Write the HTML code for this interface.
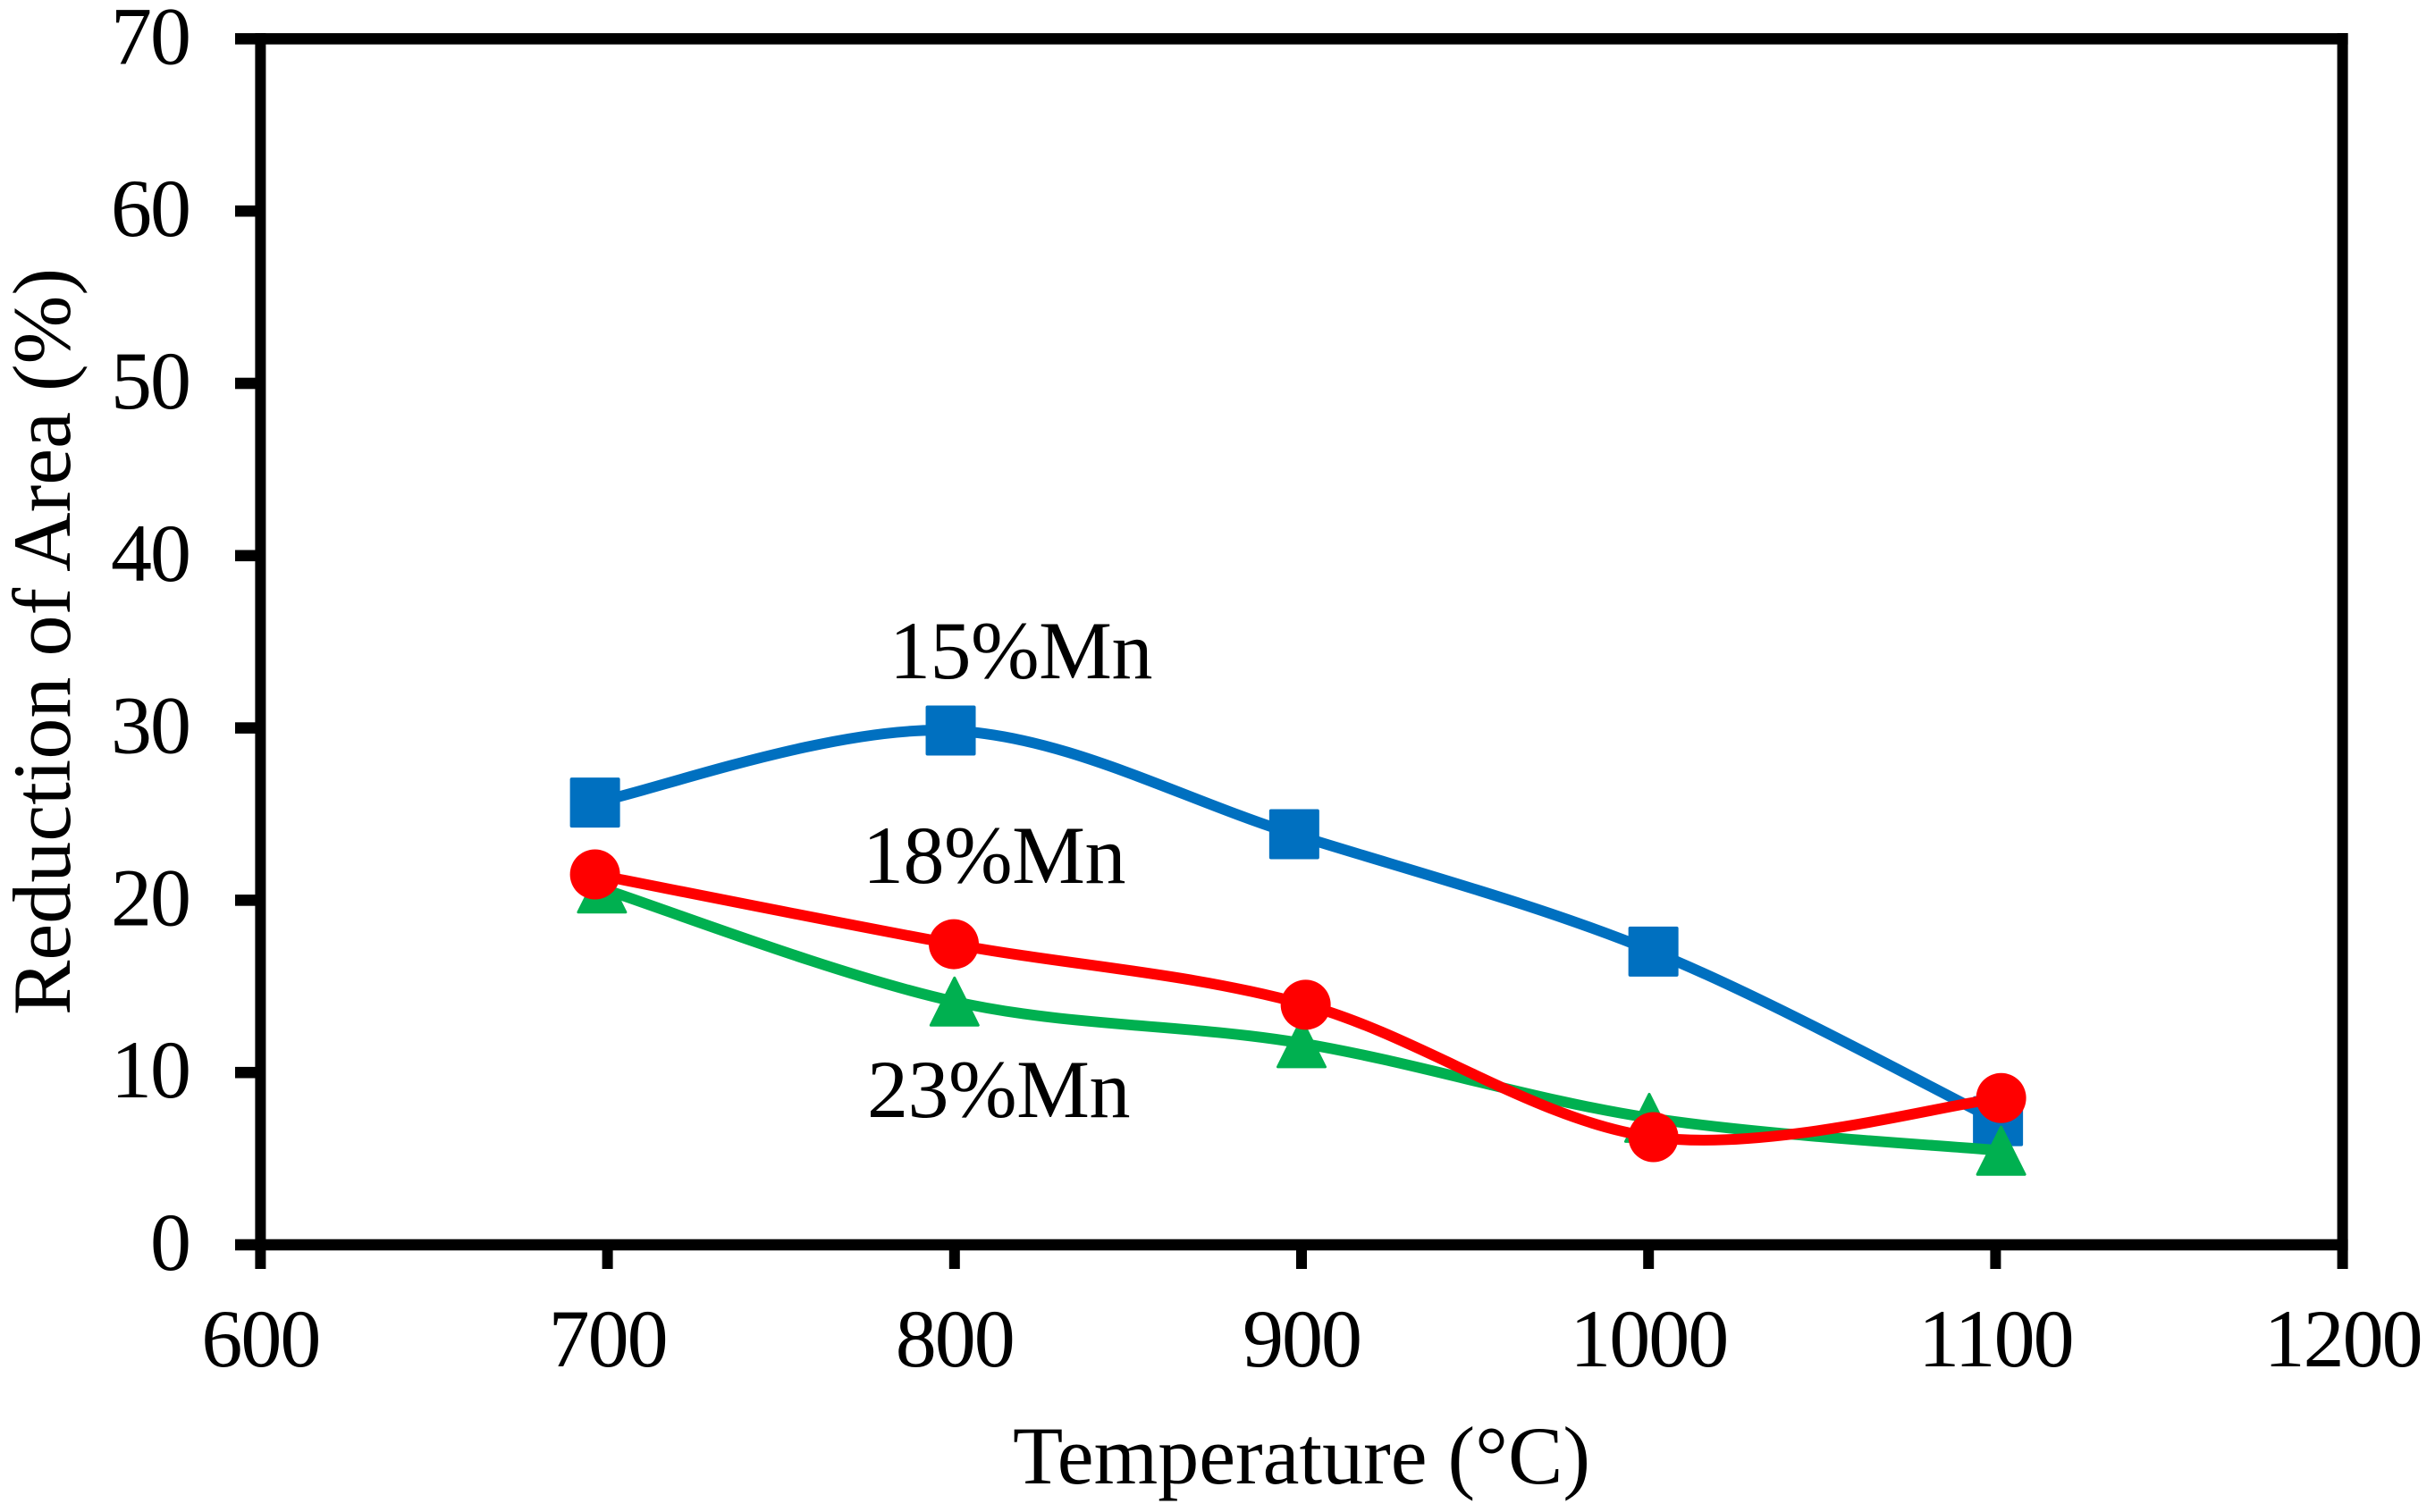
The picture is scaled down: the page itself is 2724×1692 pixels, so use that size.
<!DOCTYPE html>
<html>
<head>
<meta charset="utf-8">
<title>Reduction of Area vs Temperature</title>
<style>
html,body{margin:0;padding:0;background:#fff;}
svg{display:block;}
text{font-family:"Liberation Serif",serif;font-size:92px;fill:#000;}
.tick-label{letter-spacing:-2px;}
.series-label{letter-spacing:-0.5px;}
</style>
</head>
<body>
<svg id="chart" xmlns="http://www.w3.org/2000/svg" width="2724" height="1692" viewBox="0 0 2724 1692">
<rect x="0" y="0" width="2724" height="1692" fill="#ffffff"/>
<g id="axes"></g>
<g id="series"></g>
<g id="labels">
<text x="1456" y="1660" text-anchor="middle">Temperature (°C)</text>
<text text-anchor="middle" transform="translate(78 718) rotate(-90)" textLength="836">Reduction of Area (%)</text>
<text class="series-label" x="1142" y="759" text-anchor="middle">15%Mn</text>
<text class="series-label" x="1112" y="988" text-anchor="middle">18%Mn</text>
<text class="series-label" x="1117" y="1250" text-anchor="middle">23%Mn</text>
</g>
</svg>
<script>
const xTicks = [600, 700, 800, 900, 1000, 1100, 1200];
const yTicks = [0, 10, 20, 30, 40, 50, 60, 70];

const tempMn15 = [696.4, 798.9, 897.9, 1001.4, 1100.7];
const areaMn15 = [25.67, 29.85, 23.83, 17.02, 7.18];

const tempMn23 = [698.4, 800, 900, 1000.2, 1101.6];
const areaMn23 = [20.68, 14.12, 11.7, 7.37, 5.46];

const tempMn18 = [696.4, 799.8, 901.2, 1001.4, 1101.6];
const areaMn18 = [21.5, 17.45, 13.93, 6.25, 8.52];

const SVG_NS = 'http://www.w3.org/2000/svg';
const X_ORIGIN = 291.4, X_SCALE = 3.882, X_MIN = 600;
const Y_ORIGIN = 1393, Y_SCALE = 19.28;
const MARKER = 28;

function xPos(v) { return X_ORIGIN + (v - X_MIN) * X_SCALE; }
function yPos(v) { return Y_ORIGIN - v * Y_SCALE; }

function make(tag, parent, attrs, text) {
  const el = document.createElementNS(SVG_NS, tag);
  for (const k in attrs) el.setAttribute(k, attrs[k]);
  if (text !== undefined) el.textContent = text;
  parent.appendChild(el);
  return el;
}

function smoothPath(xs, ys) {
  const p = xs.map((x, i) => [xPos(x), yPos(ys[i])]);
  let d = 'M' + p[0][0].toFixed(1) + ' ' + p[0][1].toFixed(1);
  for (let i = 0; i < p.length - 1; i++) {
    const a = p[Math.max(i - 1, 0)], b = p[i], c = p[i + 1], e = p[Math.min(i + 2, p.length - 1)];
    const c1x = b[0] + (c[0] - a[0]) / 6, c1y = b[1] + (c[1] - a[1]) / 6;
    const c2x = c[0] - (e[0] - b[0]) / 6, c2y = c[1] - (e[1] - b[1]) / 6;
    d += 'C' + [c1x, c1y, c2x, c2y, c[0], c[1]].map(n => n.toFixed(1)).join(' ');
  }
  return d;
}

const axes = document.getElementById('axes');
const seriesGroup = document.getElementById('series');

function drawAxes() {
  const left = xPos(600), right = xPos(1200), top = yPos(70), bottom = yPos(0);
  const plot = make('rect', axes, { x: left, y: top, width: right - left, height: bottom - top, fill: 'none', stroke: 'none' });
  
  

  yTicks.forEach(function (t) {
    const tick = make('rect', axes, { x: 263, y: yPos(t) - 6.3, width: left - 263, height: 12.6, fill: '#000' });
    
    
    const label = make('text', axes, { class: 'tick-label', x: 212, y: yPos(t) + 28, 'text-anchor': 'end' }, String(t));
    
    
  });

  xTicks.forEach(function (t) {
    const tick = make('rect', axes, { x: xPos(t) - 6, y: bottom, width: 12, height: 1420 - bottom, fill: '#000' });
    
    
    const label = make('text', axes, { class: 'tick-label', x: xPos(t), y: 1529, 'text-anchor': 'middle' }, String(t));
    
    
  });

  const bl = make('rect', axes, { x: left - 6, y: top - 6.3, width: 12, height: bottom - top + 6.3, fill: '#000' });
  
  
  const br = make('rect', axes, { x: right - 6, y: top - 6.3, width: 12, height: bottom - top + 6.3, fill: '#000' });
  
  
  const bt = make('rect', axes, { x: left, y: top - 6.3, width: right - left + 6, height: 12.6, fill: '#000' });
  
  
  const bb = make('rect', axes, { x: left, y: bottom - 6.3, width: right - left + 6, height: 12.6, fill: '#000' });
  
  
}

function drawSeries(name, xs, ys, color, shape) {
  const g = make('g', seriesGroup, {});
  
  
  const line = make('path', g, { d: smoothPath(xs, ys), fill: 'none', stroke: color, 'stroke-width': 12, 'stroke-linejoin': 'round' });
  
  
  xs.forEach(function (x, i) {
    const cx = xPos(x), cy = yPos(ys[i]);
    let m;
    if (shape === 'square') {
      m = make('rect', g, { x: cx - MARKER, y: cy - MARKER, width: 2 * MARKER, height: 2 * MARKER, rx: 2, fill: color });
    } else if (shape === 'circle') {
      m = make('circle', g, { cx: cx, cy: cy, r: MARKER, fill: color });
    } else {
      const r = MARKER - 1.5;
      m = make('polygon', g, { points: cx + ',' + (cy - r) + ' ' + (cx + r) + ',' + (cy + r) + ' ' + (cx - r) + ',' + (cy + r), fill: color, stroke: color, 'stroke-width': 3, 'stroke-linejoin': 'round' });
    }
    
    
  });
}

drawAxes();
drawSeries('15-mn', tempMn15, areaMn15, '#0070C0', 'square');
drawSeries('23-mn', tempMn23, areaMn23, '#00B050', 'triangle');
drawSeries('18-mn', tempMn18, areaMn18, '#FF0000', 'circle');
</script>
</body>
</html>
